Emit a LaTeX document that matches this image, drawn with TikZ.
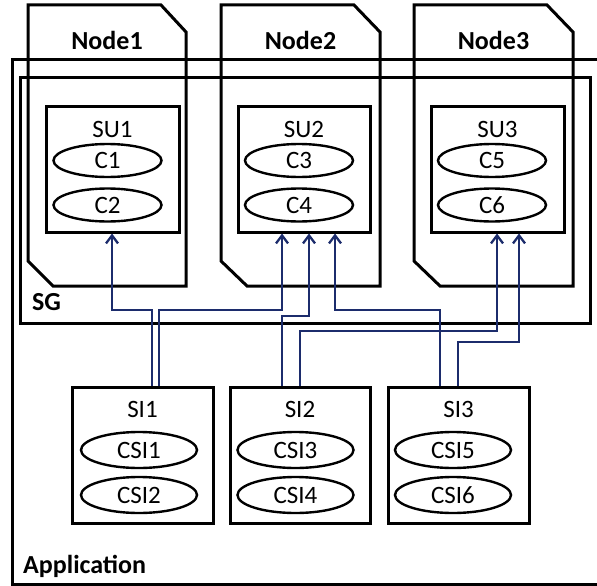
\documentclass[tikz,border=0pt]{standalone}
\usepackage{fontspec}
\setmainfont{Carlito}
\usetikzlibrary{arrows.meta,shapes.geometric}

\definecolor{wire}{RGB}{28,44,108}

\tikzset{
  frame/.style={draw=black, line width=3pt, line join=miter},
  unitbox/.style={draw=black, line width=3pt, rectangle, inner sep=0pt},
  comp/.style={draw=black, line width=2.4pt, ellipse, inner sep=0pt,
               font=\fontsize{25}{28}\selectfont},
  plain/.style={inner sep=0pt, font=\fontsize{25}{28}\selectfont},
  heading/.style={inner sep=0pt, font=\fontsize{26}{30}\selectfont\bfseries},
  conn/.style={draw=wire, line width=2.3pt,
               -{Straight Barb[length=8pt,width=12pt,line width=2.3pt]}}
}

\begin{document}
\begin{tikzpicture}[x=1pt,y=-1pt]
\useasboundingbox (0,0) rectangle (597,586);

% Application frame (open on the right)
\draw[frame] (605,60) -- (12,60) -- (12,584) -- (605,584);
\node[heading, anchor=base west] (app) at (23,573) {Application};

% service group
\draw[frame] (20,78) rectangle (590,323);
\node[heading, anchor=base west] (sg) at (32,310) {SG};

% cluster nodes
\draw[frame] (28,5) -- (161,5) -- (186,32) -- (186,286) -- (53,286) -- (28,261) -- cycle;
\draw[frame] (221,5) -- (354,5) -- (380,32) -- (380,286) -- (247,286) -- (221,261) -- cycle;
\draw[frame] (414,5) -- (547,5) -- (573,32) -- (573,286) -- (440,286) -- (414,261) -- cycle;
\node[heading, anchor=base] (n1) at (107,50) {Node1};
\node[heading, anchor=base] (n2) at (300.5,50) {Node2};
\node[heading, anchor=base] (n3) at (493.5,50) {Node3};

% service units
\node[unitbox, minimum width=133pt, minimum height=126pt] (su1) at (112.5,169) {};
\node[unitbox, minimum width=132pt, minimum height=126pt] (su2) at (304,169) {};
\node[unitbox, minimum width=133pt, minimum height=126pt] (su3) at (497.5,169) {};
\node[plain, anchor=base] (su1t) at (112.5,137) {SU1};
\node[plain, anchor=base] (su2t) at (304,137) {SU2};
\node[plain, anchor=base] (su3t) at (497.5,137) {SU3};
\node[comp, minimum width=108pt, minimum height=33pt] (c1) at (107.5,160.5) {C1};
\node[comp, minimum width=108pt, minimum height=33pt] (c2) at (107.5,205) {C2};
\node[comp, minimum width=108pt, minimum height=33pt] (c3) at (299,160.5) {C3};
\node[comp, minimum width=108pt, minimum height=33pt] (c4) at (299,205) {C4};
\node[comp, minimum width=108pt, minimum height=33pt] (c5) at (492,160.5) {C5};
\node[comp, minimum width=108pt, minimum height=33pt] (c6) at (492,205) {C6};

% service instances
\node[unitbox, minimum width=141pt, minimum height=136pt] (si1) at (142.5,455) {};
\node[unitbox, minimum width=140pt, minimum height=136pt] (si2) at (300,455) {};
\node[unitbox, minimum width=141pt, minimum height=136pt] (si3) at (458.5,455) {};
\node[plain, anchor=base] (si1t) at (142.5,417) {SI1};
\node[plain, anchor=base] (si2t) at (300,417) {SI2};
\node[plain, anchor=base] (si3t) at (458.5,417) {SI3};
\node[comp, minimum width=116pt, minimum height=36pt] (csi1) at (139,450) {CSI1};
\node[comp, minimum width=116pt, minimum height=36pt] (csi2) at (139,495) {CSI2};
\node[comp, minimum width=116pt, minimum height=36pt] (csi3) at (295.5,450) {CSI3};
\node[comp, minimum width=116pt, minimum height=36pt] (csi4) at (295.5,495) {CSI4};
\node[comp, minimum width=116pt, minimum height=36pt] (csi5) at (453,450) {CSI5};
\node[comp, minimum width=116pt, minimum height=36pt] (csi6) at (453,495) {CSI6};

% assignments
\draw[conn] (152,0 |- si1.north) |- (112,310) -- (112,0 |- su1.south);
\draw[conn] (159,0 |- si1.north) |- (282,310) -- (282,0 |- su2.south);
\draw[conn] (282,0 |- si2.north) |- (309,316) -- (309,0 |- su2.south);
\draw[conn] (300,0 |- si2.north) |- (497,331) -- (497,0 |- su3.south);
\draw[conn] (440,0 |- si3.north) |- (335,310) -- (335,0 |- su2.south);
\draw[conn] (458,0 |- si3.north) |- (519,342) -- (519,0 |- su3.south);
\end{tikzpicture}
\end{document}
